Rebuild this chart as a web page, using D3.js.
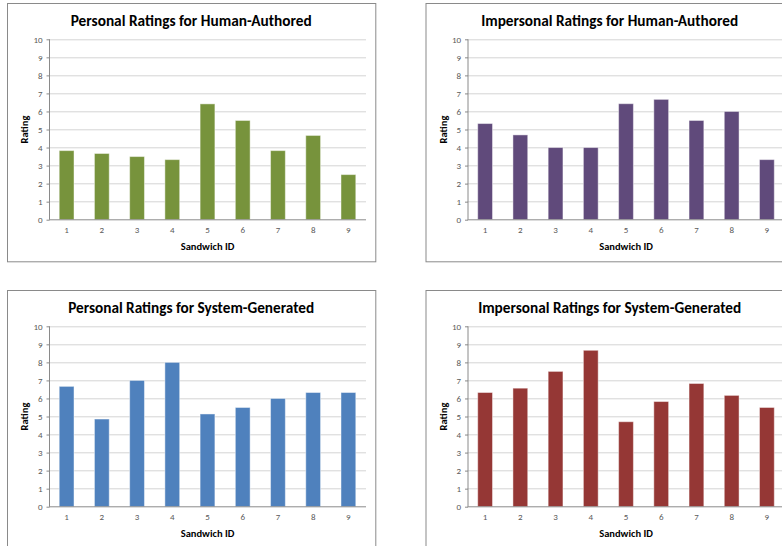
<!DOCTYPE html>
<html>
<head>
<meta charset="utf-8">
<script src="https://cdn.jsdelivr.net/npm/d3@7"></script>
<style>
  html, body { margin: 0; padding: 0; background: #fff; }
  svg { display: block; }
</style>
</head>
<body>
<div id="chart"></div>
<script>
// ---- Data ----
const sandwichIds = ['1', '2', '3', '4', '5', '6', '7', '8', '9'];
const yTicks = [0, 1, 2, 3, 4, 5, 6, 7, 8, 9, 10];

const personalHuman = [3.83, 3.67, 3.5, 3.33, 6.42, 5.5, 3.83, 4.67, 2.5];
const impersonalHuman = [5.33, 4.7, 4, 4, 6.43, 6.67, 5.5, 6, 3.33];
const personalSystem = [6.67, 4.86, 7, 8, 5.14, 5.5, 6, 6.33, 6.33];
const impersonalSystem = [6.33, 6.57, 7.5, 8.67, 4.71, 5.83, 6.83, 6.17, 5.5];

const panels = [
  { title: 'Personal Ratings for Human-Authored', values: personalHuman, color: '#77933C', x: 7, y: 3, tw: 241 },
  { title: 'Impersonal Ratings for Human-Authored', values: impersonalHuman, color: '#604A7B', x: 425.5, y: 3, tw: 257 },
  { title: 'Personal Ratings for System-Generated', values: personalSystem, color: '#4F81BD', x: 7, y: 290, tw: 246 },
  { title: 'Impersonal Ratings for System-Generated', values: impersonalSystem, color: '#953735', x: 425.5, y: 290, tw: 263 }
];

const W = 782, H = 546;
const panelW = 368.3, panelH = 258.3;
const margin = { top: 36.3, left: 42 };
const innerWidth = 317, innerHeight = 180.4;
const font = 'Carlito, Calibri, Lato, sans-serif';

const svg = d3.select('#chart').append('svg')
  .attr('width', W).attr('height', H);

function drawPanel(p) {
  const panel = svg.append('g').attr('transform', `translate(${p.x},${p.y})`);

  // frame (right-hand panels run off the picture edge, as in the source)
  panel.append('rect')
    .attr('x', 0.5).attr('y', 0.5)
    .attr('width', Math.min(panelW, W - p.x + 2))
    .attr('height', Math.min(panelH, H - p.y + 2))
    .attr('fill', '#fff')
    .attr('stroke', '#8a8a8a')
    .attr('stroke-width', 1);

  // title
  panel.append('text')
    .attr('x', panelW / 2)
    .attr('y', 22.5)
    .attr('text-anchor', 'middle')
    .attr('font-family', font)
    .attr('font-weight', 'bold')
    .attr('font-size', '15px')
    .attr('fill', '#000')
    .attr('textLength', p.tw)
    .attr('lengthAdjust', 'spacingAndGlyphs')
    .text(p.title);

  const g = panel.append('g').attr('transform', `translate(${margin.left},${margin.top})`);

  // ---- Scales ----
  const x = d3.scaleBand().domain(sandwichIds).range([0, innerWidth])
    .paddingInner(0.58).paddingOuter(0.29);
  const y = d3.scaleLinear().domain([0, 10]).range([innerHeight, 0]);

  // grid lines
  g.append('g')
    .selectAll('line').data(yTicks.slice(1)).join('line')
    .attr('x1', 0).attr('x2', innerWidth)
    .attr('y1', d => Math.round(y(d)) + 0.5).attr('y2', d => Math.round(y(d)) + 0.5)
    .attr('stroke', '#d4d4d4')
    .attr('stroke-width', 1);

  // bars
  g.selectAll('.bar')
    .data(p.values)
    .join('rect')
    .attr('class', 'bar')
    .attr('x', (_, i) => x(sandwichIds[i]))
    .attr('y', d => y(d))
    .attr('width', x.bandwidth())
    .attr('height', d => innerHeight - y(d))
    .attr('fill', p.color)
    .attr('stroke', 'rgba(255,255,255,0.45)')
    .attr('stroke-width', 1);

  // ---- Axes ----
  const yAxis = d3.axisLeft(y)
    .tickValues(yTicks)
    .tickSize(3)
    .tickPadding(4);

  g.append('g')
    .attr('transform', 'translate(0.5,0)')
    .call(yAxis)
    .call(a => a.select('.domain').attr('stroke', '#8a8a8a').attr('d', `M0,0V${innerHeight}`))
    .call(a => a.selectAll('.tick line').attr('stroke', '#8a8a8a'))
    .call(a => a.selectAll('.tick text')
      .attr('font-family', font).attr('font-size', '9px').attr('fill', '#595959'));

  const xAxis = d3.axisBottom(x)
    .tickSize(0)
    .tickPadding(7);

  g.append('g')
    .attr('transform', `translate(0,${Math.round(innerHeight) + 0.5})`)
    .call(xAxis)
    .call(a => a.select('.domain').attr('stroke', '#8a8a8a').attr('d', `M0,0H${innerWidth}`))
    .call(a => a.selectAll('.tick text')
      .attr('font-family', font).attr('font-size', '9px').attr('fill', '#595959'));

  // axis titles
  g.append('text')
    .attr('x', innerWidth / 2)
    .attr('y', innerHeight + 30)
    .attr('text-anchor', 'middle')
    .attr('font-family', font)
    .attr('font-weight', 'bold')
    .attr('font-size', '10.5px')
    .attr('fill', '#000')
    .text('Sandwich ID');

  g.append('text')
    .attr('transform', `translate(${-margin.left + 21},${innerHeight / 2}) rotate(-90)`)
    .attr('text-anchor', 'middle')
    .attr('font-family', font)
    .attr('font-weight', 'bold')
    .attr('font-size', '10.5px')
    .attr('fill', '#000')
    .text('Rating');
}

panels.forEach(drawPanel);
</script>
</body>
</html>
